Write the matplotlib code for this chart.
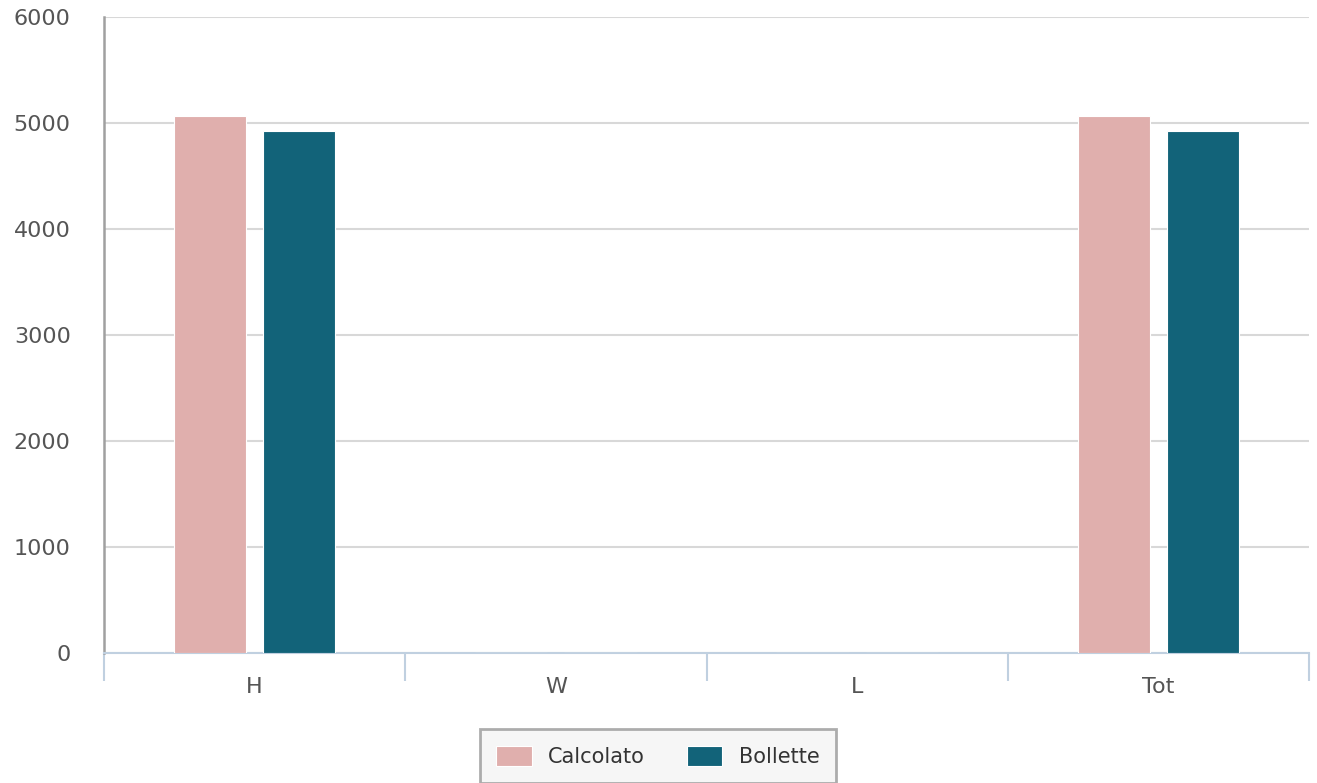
import matplotlib
matplotlib.use("Agg")
import matplotlib.pyplot as plt
import numpy as np

# consumption comparison: computed vs billed
categories = ["H", "W", "L", "Tot"]
calcolato = [5070, 0, 0, 5070]
bollette = [4920, 0, 0, 4920]
yticks = [0, 1000, 2000, 3000, 4000, 5000, 6000]

pink = "#e0afad"
teal = "#126379"

fig = plt.figure(figsize=(13.17, 7.83), dpi=100)
ax = fig.add_axes([104 / 1317, 1 - 653 / 783, 1205 / 1317, 636 / 783])

x = np.arange(len(categories))
w = 0.24
off = 0.148
ax.bar(x - off, calcolato, w, color=pink, edgecolor="white", linewidth=0.8, label="Calcolato", zorder=3)
ax.bar(x + off, bollette, w, color=teal, edgecolor="white", linewidth=0.8, label="Bollette", zorder=3)

ax.set_xlim(-0.5, len(categories) - 0.5)
ax.set_ylim(0, 6000)
ax.set_yticks(yticks)
ax.set_yticklabels([str(v) for v in yticks])
ax.grid(axis="y", color="#d8d8d8", linewidth=1.5, zorder=0)

for s in ["top", "right"]:
    ax.spines[s].set_visible(False)
ax.spines["left"].set_color("#a0a0a0")
ax.spines["left"].set_linewidth(1.8)
ax.spines["bottom"].set_color("#c0d0e0")
ax.spines["bottom"].set_linewidth(1.5)

ax.tick_params(axis="y", length=0, pad=24, labelsize=16, labelcolor="#555555")
ax.set_xticks(x)
ax.set_xticklabels(categories)
ax.tick_params(axis="x", length=0, pad=17, labelsize=16, labelcolor="#555555")

# boundary tick marks between categories
ax.set_xticks(np.arange(len(categories) + 1) - 0.5, minor=True)
ax.tick_params(axis="x", which="minor", length=20, width=1.5, color="#c0d0e0")

leg = fig.legend(loc="upper center", bbox_to_anchor=(658 / 1317, 1 - 729 / 783), ncol=2,
                 frameon=True, fontsize=15, handlelength=1.7, handleheight=1.1,
                 columnspacing=2.0, borderpad=0.8, borderaxespad=0, fancybox=False)
leg.get_frame().set_facecolor("#f4f4f4")
leg.get_frame().set_edgecolor("#999999")
leg.get_frame().set_linewidth(2)
for t in leg.get_texts():
    t.set_color("#333333")

fig.savefig("out.png", dpi=100)
